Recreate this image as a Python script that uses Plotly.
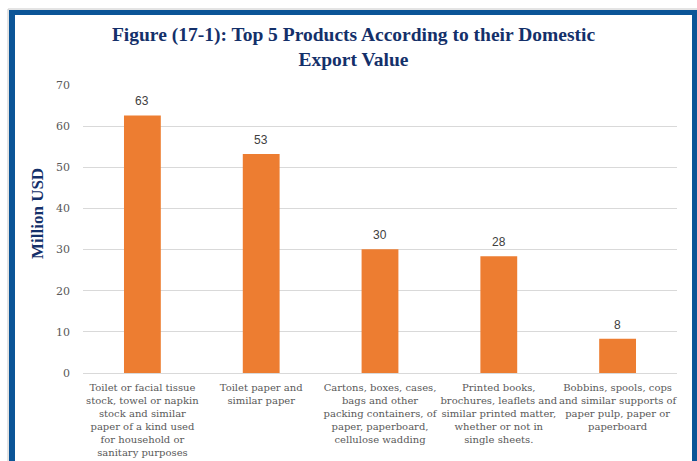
import plotly.graph_objects as go

categories = [
    "Toilet or facial tissue<br>stock, towel or napkin<br>stock and similar<br>paper of a kind used<br>for household or<br>sanitary purposes",
    "Toilet paper and<br>similar paper",
    "Cartons, boxes, cases,<br>bags and other<br>packing containers, of<br>paper, paperboard,<br>cellulose wadding",
    "Printed books,<br>brochures, leaflets and<br>similar printed matter,<br>whether or not in<br>single sheets.",
    "Bobbins, spools, cops<br>and similar supports of<br>paper pulp, paper or<br>paperboard",
]
values = [62.6, 53.2, 30.1, 28.4, 8.3]
y_ticks = [0, 10, 20, 30, 40, 50, 60, 70]

W, H = 697, 461
L, R, T, B = 83, 20, 85, 88
pw, ph = W - L - R, H - T - B

def px(x):
    return (x - L) / pw

def py(y):
    return (H - B - y) / ph

BLUE = "#0B5597"
NAVY = "#14306A"

fig = go.Figure()
fig.add_trace(go.Bar(
    x=categories, y=values, width=0.31,
    marker=dict(color="#ED7D31", line=dict(width=0)),
    hoverinfo="skip",
))

for c, v in zip(categories, values):
    fig.add_annotation(x=c, y=v, text=f"{v:.0f}", showarrow=False,
                       yanchor="bottom", yshift=5,
                       font=dict(family="Liberation Sans, Arial", size=12, color="#404040"))

fig.add_annotation(xref="paper", yref="paper", x=px(37), y=py(214), text="<b>Million USD</b>",
                   xanchor="center", yanchor="middle",
                   textangle=-90, showarrow=False,
                   font=dict(family="Liberation Serif", size=17, color=NAVY))

shapes = [
    dict(type="rect", xref="paper", yref="paper", x0=px(8), x1=px(700), y0=py(470), y1=py(9),
         line=dict(color="#C8C8C8", width=1), fillcolor="rgba(0,0,0,0)", layer="below"),
    dict(type="rect", xref="paper", yref="paper", x0=px(9), x1=px(15), y0=py(470), y1=py(10),
         line=dict(width=0), fillcolor=BLUE),
    dict(type="rect", xref="paper", yref="paper", x0=px(9), x1=px(700), y0=py(15), y1=py(10),
         line=dict(width=0), fillcolor=BLUE),
    dict(type="rect", xref="paper", yref="paper", x0=px(692), x1=px(700), y0=py(470), y1=py(10),
         line=dict(width=0), fillcolor=BLUE),
]

fig.update_layout(
    width=W, height=H, autosize=False,
    margin=dict(l=L, r=R, t=T, b=B),
    paper_bgcolor="white", plot_bgcolor="white",
    showlegend=False,
    title=dict(
        text="<b>Figure (17-1): Top 5 Products According to their Domestic<br>Export Value</b>",
        x=353.5 / W, xanchor="center", y=1 - 41 / H, yanchor="middle",
        font=dict(family="Liberation Serif", size=19.5, color=NAVY),
    ),
    shapes=shapes,
    xaxis=dict(
        showgrid=False, showline=False, zeroline=False, automargin=False,
        tickfont=dict(family="DejaVu Serif", size=10, color="#595959"),
        ticklabelstandoff=7,
        tickangle=0,
    ),
    yaxis=dict(
        range=[0, 70], tickvals=y_ticks, ticktext=[str(t) for t in y_ticks],
        showgrid=True, gridcolor="#D9D9D9", gridwidth=1,
        zeroline=True, zerolinecolor="#D9D9D9", zerolinewidth=1,
        showline=False, automargin=False,
        tickfont=dict(family="DejaVu Serif", size=11, color="#595959"),
        ticklabelstandoff=12,
    ),
)

fig.write_html("out.html",
               config={"responsive": False, "displayModeBar": False},
               post_script="document.body.style.margin='0';document.body.style.overflow='hidden';")
